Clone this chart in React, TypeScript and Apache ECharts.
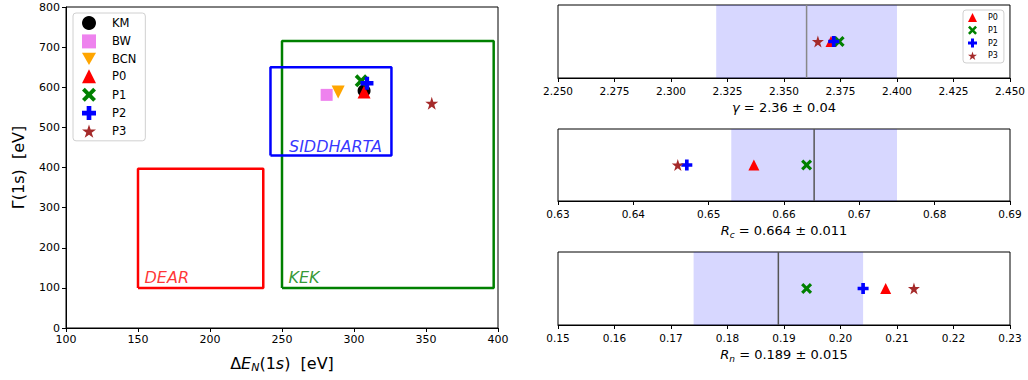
import React, { useEffect, useRef } from "react";
import * as echarts from "echarts";

// ---------- data ----------
const mainNames = ["KM", "BW", "BCN", "P0", "P1", "P2", "P3"];
const mainDeltaE = [307, 281, 289, 307, 305, 309, 354];
const mainGamma = [591, 581, 588, 588, 616, 610, 560];

const boxNames = ["DEAR", "KEK", "SIDDHARTA"];
const boxXMin = [150, 250, 242];
const boxXMax = [237, 397, 326];
const boxYMin = [100, 100, 430];
const boxYMax = [397, 715, 650];

const paramNames = ["P0", "P1", "P2", "P3"];
const gammaVals = [2.3708, 2.3744, 2.372, 2.365];
const rcVals = [0.656, 0.663, 0.6471, 0.6459];
const rnVals = [0.208, 0.194, 0.204, 0.213];

const gammaRef = { center: 2.36, err: 0.04 };
const rcRef = { center: 0.664, err: 0.011 };
const rnRef = { center: 0.189, err: 0.015 };

const xTicksMain = { min: 100, max: 400, interval: 50 };
const yTicksMain = { min: 0, max: 800, interval: 100 };

// ---------- styles ----------
const FONT = "DejaVu Sans";
const colors: Record<string, string> = {
  KM: "#000000",
  BW: "#ee82ee",
  BCN: "#ffa500",
  P0: "#ff0000",
  P1: "#008000",
  P2: "#0000ff",
  P3: "#a52a2a",
};
const plusPath =
  "path://M-1,-3 L1,-3 L1,-1 L3,-1 L3,1 L1,1 L1,3 L-1,3 L-1,1 L-3,1 L-3,-1 L-1,-1 Z";
const xPath =
  "path://M-2.12,-3.54 L0,-1.41 L2.12,-3.54 L3.54,-2.12 L1.41,0 L3.54,2.12 L2.12,3.54 L0,1.41 L-2.12,3.54 L-3.54,2.12 L-1.41,0 L-3.54,-2.12 Z";
const starPath =
  "path://M0,-1 L0.2245,-0.309 L0.951,-0.309 L0.363,0.118 L0.588,0.809 L0,0.382 L-0.588,0.809 L-0.363,0.118 L-0.951,-0.309 L-0.2245,-0.309 Z";
const triDownPath = "path://M-1,-0.866 L1,-0.866 L0,0.866 Z";
const symbols: Record<string, string> = {
  KM: "circle",
  BW: "rect",
  BCN: triDownPath,
  P0: "triangle",
  P1: xPath,
  P2: plusPath,
  P3: starPath,
};
const sizeMain: Record<string, number> = {
  KM: 13, BW: 12, BCN: 13, P0: 13, P1: 13, P2: 13, P3: 13,
};
const boxColors = ["#ff0000", "#008000", "#0000ff"];

export default function App() {
  const ref = useRef<HTMLDivElement>(null);
  useEffect(() => {
    if (!ref.current) return;
    const chart = echarts.init(ref.current, null, { renderer: "svg" });

    const grids: any[] = [
      { left: 66, top: 7, width: 432, height: 321, show: true, borderColor: "#000", borderWidth: 1, backgroundColor: "#fff" },
      { left: 558, top: 5, width: 452, height: 73, show: true, borderColor: "#000", borderWidth: 1 },
      { left: 558, top: 129, width: 452, height: 72, show: true, borderColor: "#000", borderWidth: 1 },
      { left: 558, top: 252, width: 452, height: 73, show: true, borderColor: "#000", borderWidth: 1 },
    ];

    const tickLabel = { color: "#000", fontFamily: FONT, fontSize: 11 };
    const nameRich = {
      n: { fontFamily: FONT, fontSize: 16, color: "#000", lineHeight: 20 },
      i: { fontFamily: FONT, fontSize: 16, color: "#000", fontStyle: "italic", lineHeight: 20 },
      sub: { fontFamily: FONT, fontSize: 11, color: "#000", fontStyle: "italic", lineHeight: 10, verticalAlign: "bottom", padding: [9, 0, 0, 0] },
      ns: { fontFamily: FONT, fontSize: 13, color: "#000", lineHeight: 18 },
      is: { fontFamily: FONT, fontSize: 13, color: "#000", fontStyle: "italic", lineHeight: 18 },
      subs: { fontFamily: FONT, fontSize: 9, color: "#000", fontStyle: "italic", lineHeight: 9, verticalAlign: "bottom", padding: [8, 0, 0, 0] },
    };

    const xAxes: any[] = [
      {
        gridIndex: 0, type: "value", ...xTicksMain,
        name: "{n|Δ}{i|E}{sub|N}{n|(1}{i|s}{n|)  [eV]}",
        nameLocation: "middle", nameGap: 25,
        nameTextStyle: { rich: nameRich },
        axisLine: { show: true, lineStyle: { color: "#000" } },
        axisTick: { show: true, length: 4, lineStyle: { color: "#000" } },
        axisLabel: { ...tickLabel, margin: 6 },
        splitLine: { show: false },
      },
    ];
    const yAxes: any[] = [
      {
        gridIndex: 0, type: "value", ...yTicksMain,
        name: "{n|Γ(1s)  [eV]}",
        nameLocation: "middle", nameGap: 38, nameRotate: 90,
        nameTextStyle: { rich: nameRich },
        axisLine: { show: true, lineStyle: { color: "#000" } },
        axisTick: { show: true, length: 4, lineStyle: { color: "#000" } },
        axisLabel: { ...tickLabel, margin: 6 },
        splitLine: { show: false },
      },
    ];

    const panels = [
      { vals: gammaVals, ref: gammaRef, min: 2.25, max: 2.45, interval: 0.025, dec: 3, name: "{is|γ}{ns| = 2.36 ± 0.04}", lineColor: "#888888" },
      { vals: rcVals, ref: rcRef, min: 0.63, max: 0.69, interval: 0.01, dec: 2, name: "{is|R}{subs|c}{ns| = 0.664 ± 0.011}", lineColor: "#555555" },
      { vals: rnVals, ref: rnRef, min: 0.15, max: 0.23, interval: 0.01, dec: 2, name: "{is|R}{subs|n}{ns| = 0.189 ± 0.015}", lineColor: "#555555" },
    ];

    const series: any[] = [];

    // boxes
    boxNames.forEach((b, k) => {
      series.push({
        type: "line", name: b + " box", xAxisIndex: 0, yAxisIndex: 0,
        data: [
          [boxXMin[k], boxYMin[k]], [boxXMax[k], boxYMin[k]], [boxXMax[k], boxYMax[k]],
          [boxXMin[k], boxYMax[k]], [boxXMin[k], boxYMin[k]],
        ],
        symbol: "none", lineStyle: { color: boxColors[k], width: 2.5 }, z: 2, silent: true,
      });
      series.push({
        type: "scatter", name: b + " label", xAxisIndex: 0, yAxisIndex: 0,
        data: [[boxXMin[k], boxYMin[k]]],
        symbolSize: 1, itemStyle: { color: "rgba(0,0,0,0)" }, silent: true,
        label: {
          show: true, position: "right", distance: 0,
          offset: [k === 2 ? 18 : 6, k === 2 ? -9 : -10],
          formatter: b, color: boxColors[k], fontFamily: FONT, fontSize: 16, fontStyle: "italic",
        },
      });
    });

    // main points
    mainNames.forEach((n, k) => {
      series.push({
        type: "scatter", name: n, xAxisIndex: 0, yAxisIndex: 0,
        data: [[mainDeltaE[k], mainGamma[k]]],
        symbol: symbols[n], symbolSize: sizeMain[n],
        itemStyle: { color: colors[n], opacity: 1 }, z: 5, silent: true,
      });
    });

    panels.forEach((p, pi) => {
      const gi = pi + 1;
      xAxes.push({
        gridIndex: gi, type: "value", min: p.min, max: p.max, interval: p.interval,
        name: p.name, nameLocation: "middle", nameGap: 20,
        nameTextStyle: { rich: nameRich },
        axisLine: { show: true, lineStyle: { color: "#000" } },
        axisTick: { show: true, length: 4, lineStyle: { color: "#000" } },
        axisLabel: { ...tickLabel, fontSize: 10.5, margin: 7, formatter: (v: number) => v.toFixed(p.dec) },
        splitLine: { show: false },
      });
      yAxes.push({ gridIndex: gi, type: "value", min: 0, max: 1, show: false, splitLine: { show: false } });
      series.push({
        type: "line", name: "ref" + gi, xAxisIndex: gi, yAxisIndex: gi,
        data: [[p.ref.center, 0], [p.ref.center, 1]], symbol: "none", silent: true, z: 1,
        lineStyle: { color: p.lineColor, width: 1.5 },
        markArea: {
          silent: true,
          itemStyle: { color: "rgba(0,0,255,0.155)" },
          data: [[{ xAxis: p.ref.center - p.ref.err }, { xAxis: p.ref.center + p.ref.err }]],
        },
      });
      paramNames.forEach((n, k) => {
        series.push({
          type: "scatter", name: n, xAxisIndex: gi, yAxisIndex: gi,
          data: [[p.vals[k], 0.5]], symbol: symbols[n], symbolSize: n === "P3" ? 12 : 11,
          itemStyle: { color: colors[n], opacity: 1 }, z: 5 + k, silent: true,
        });
      });
    });

    chart.setOption({
      animation: false,
      backgroundColor: "#fff",
      grid: grids,
      xAxis: xAxes,
      yAxis: yAxes,
      legend: [
        {
          orient: "vertical", left: 73, top: 13,
          data: mainNames.map((n) => ({ name: n, icon: symbols[n] })),
          itemWidth: 14, itemHeight: 14, itemGap: 4.4,
          padding: [3, 9, 3, 9],
          borderColor: "#d0d0d0", borderWidth: 1, borderRadius: 3, backgroundColor: "#fff",
          textStyle: { fontFamily: FONT, fontSize: 11.5, color: "#000", padding: [0, 0, 0, 11] },
          selectedMode: false,
        },
        {
          orient: "vertical", left: 963, top: 10,
          data: paramNames.map((n) => ({ name: n, icon: symbols[n] })),
          itemWidth: 9, itemHeight: 9, itemGap: 3.8,
          padding: [3, 6, 3, 5],
          borderColor: "#d0d0d0", borderWidth: 1, borderRadius: 3, backgroundColor: "#fff",
          textStyle: { fontFamily: FONT, fontSize: 8, color: "#000", padding: [0, 0, 0, 6] },
          selectedMode: false,
        },
      ],
      series,
    });
    return () => chart.dispose();
  }, []);
  return <div ref={ref} style={{ width: 1028, height: 380, position: "absolute", left: 0, top: 0 }} />;
}
